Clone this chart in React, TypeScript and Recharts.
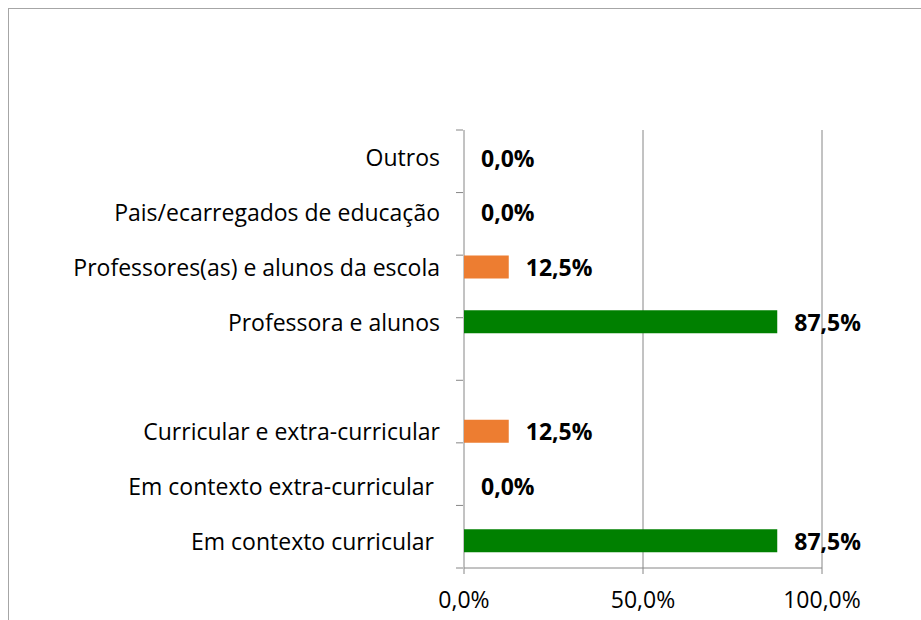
import React from "react";
import { BarChart, Bar, XAxis, YAxis, CartesianGrid, Rectangle } from "recharts";

const categories = [
  "Outros",
  "Pais/ecarregados de educação",
  "Professores(as) e alunos da escola",
  "Professora e alunos",
  "",
  "Curricular e extra-curricular",
  "Em contexto extra-curricular ",
  "Em contexto curricular ",
];
const values: (number | null)[] = [0, 0, 12.5, 87.5, null, 12.5, 0, 87.5];
const barColors = ["#ED7D31", "#ED7D31", "#ED7D31", "#008000", "#008000", "#ED7D31", "#ED7D31", "#008000"];
const xTicks = [0, 50, 100];
const boundaryTicks = [0, 1, 2, 3, 4, 5, 6, 7, 8];

const data = categories.map((c, i) => ({
  name: c || `blank${i}`,
  value: values[i],
  idx: i,
  color: barColors[i],
}));

const FONT = "'Open Sans', sans-serif";
const FS = 23;
const GRID = "#868686";

const fmt = (v: number) => v.toFixed(1).replace(".", ",") + "%";

const CatTick = (props: any) => {
  const { x, y, payload } = props;
  const v: string = payload?.value ?? "";
  const label = v.startsWith("blank") ? "" : v;
  return (
    <text
      x={x}
      y={y}
      textAnchor="end"
      dominantBaseline="central"
      xmlSpace="preserve"
      style={{ whiteSpace: "pre" }}
      fontFamily={FONT}
      fontSize={FS}
      fill="#000"
    >
      {label}
    </text>
  );
};

const BarWithLabel = (props: any) => {
  const { x, y, width, height, payload } = props;
  const v = payload?.value;
  if (v === null || v === undefined) return null;
  const w = Math.max(0, width || 0);
  return (
    <g>
      {w > 0 && <Rectangle x={x} y={y} width={w} height={height} fill={payload.color} />}
      <text
        x={x + w + 17}
        y={y + height / 2}
        dominantBaseline="central"
        fontFamily={FONT}
        fontSize={FS}
        fontWeight="bold"
        fill="#000"
      >
        {fmt(v)}
      </text>
    </g>
  );
};

export default function App() {
  return (
    <div
      style={{
        position: "fixed",
        left: 8,
        top: 8,
        width: 913,
        height: 612,
        overflow: "hidden",
        borderLeft: "1px solid #a6a6a6",
        borderTop: "1px solid #a6a6a6",
        background: "#fff",
      }}
    >
      <BarChart
        width={912}
        height={611}
        data={data}
        layout="vertical"
        margin={{ top: 121, right: 99, left: 0, bottom: 12 }}
        barSize={23}
      >
        <CartesianGrid horizontal={false} vertical={true} stroke={GRID} strokeWidth={1} />
        <XAxis
          type="number"
          dataKey="value"
          domain={[0, 100]}
          ticks={xTicks}
          tickFormatter={fmt}
          axisLine={{ stroke: GRID }}
          tickLine={{ stroke: GRID }}
          tickSize={6}
          tickMargin={18}
          height={40}
          tick={{ fontFamily: FONT, fontSize: FS, fill: "#000" }}
          interval={0}
        />
        <YAxis
          type="category"
          dataKey="name"
          width={1}
          axisLine={false}
          tickLine={false}
          tickSize={0}
          tickMargin={24}
          tick={<CatTick />}
          interval={0}
        />
        <YAxis
          yAxisId="bounds"
          type="number"
          orientation="left"
          domain={[0, 8]}
          ticks={boundaryTicks}
          width={454}
          axisLine={false}
          tickLine={{ stroke: GRID }}
          tickSize={7}
          tick={() => <g />}
          interval={0}
        />
        <Bar dataKey="value" isAnimationActive={false} shape={<BarWithLabel />} />
      </BarChart>
    </div>
  );
}
